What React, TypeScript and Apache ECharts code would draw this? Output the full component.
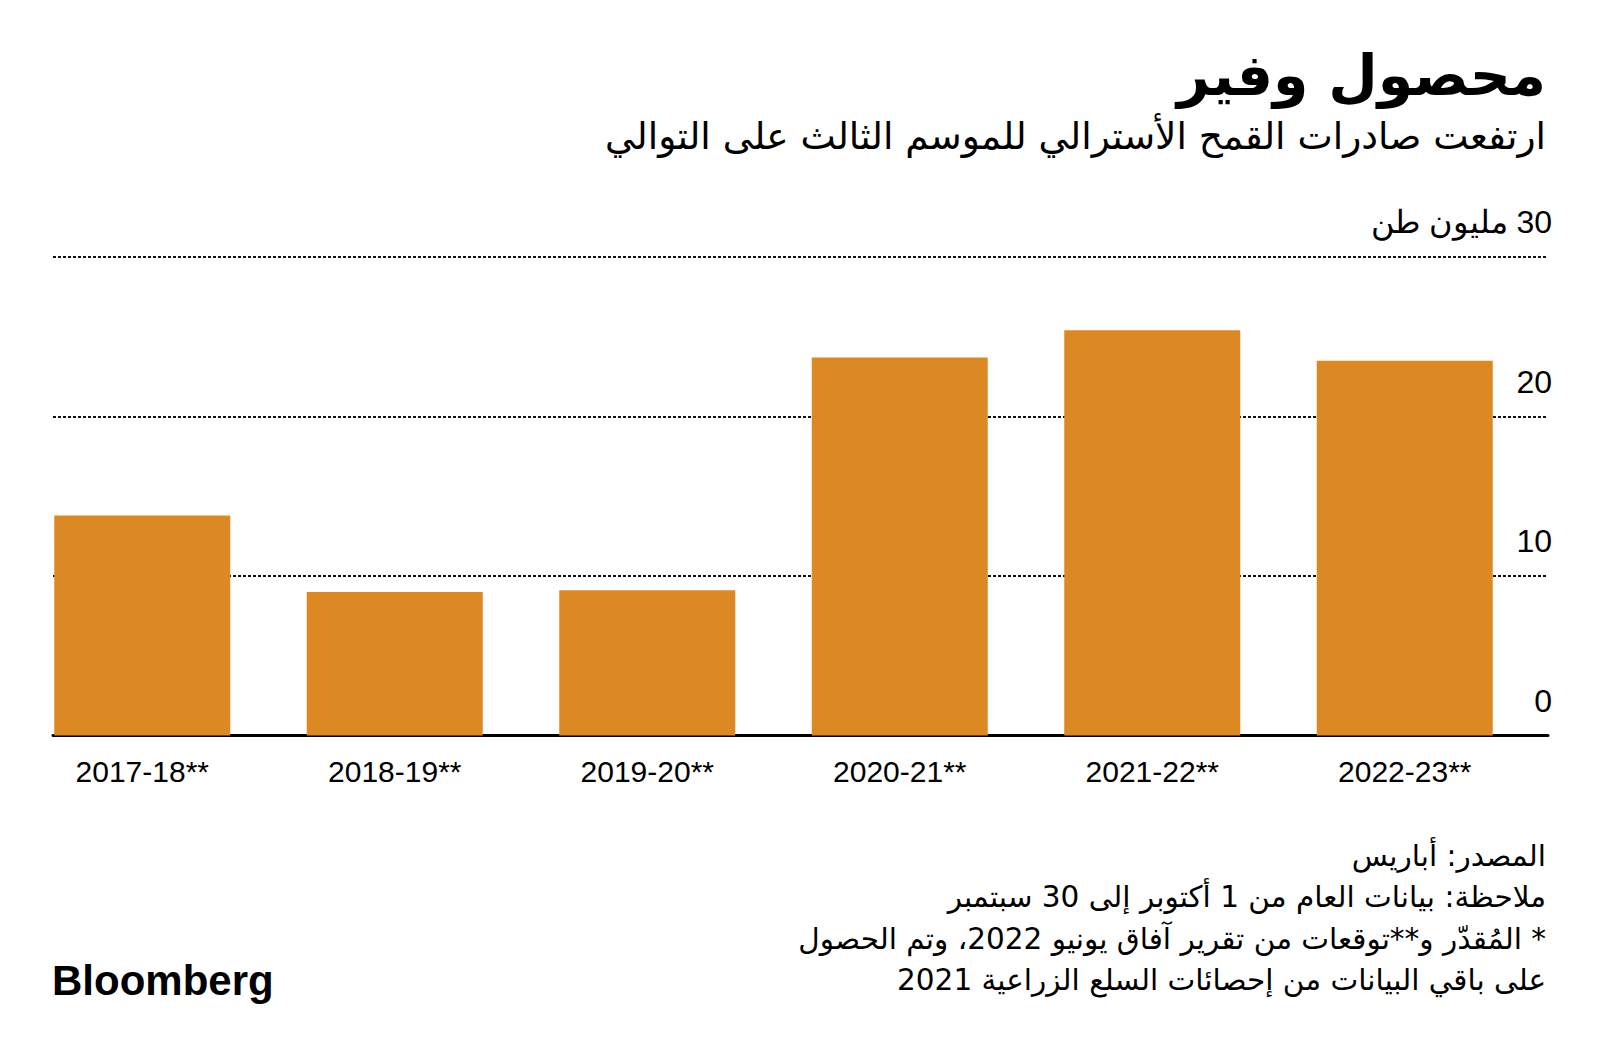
import React, { useEffect, useRef } from "react";
import * as echarts from "echarts";

const categories = ["2017-18**", "2018-19**", "2019-20**", "2020-21**", "2021-22**", "2022-23**"];
const exportValues = [13.8, 9.0, 9.1, 23.7, 25.4, 23.5];
const yTicks = [0, 10, 20, 30];
const unitLabel = "مليون طن";
const titleText = "محصول وفير";
const subtitleText = "ارتفعت صادرات القمح الأسترالي للموسم الثالث على التوالي";
const noteLines = [
  "المصدر: أباريس",
  "ملاحظة: بيانات العام من 1 أكتوبر إلى 30 سبتمبر",
  "* المُقدّر و**توقعات من تقرير آفاق يونيو 2022، وتم الحصول",
  "على باقي البيانات من إحصائات السلع الزراعية 2021",
];
const brand = "Bloomberg";

const RLE = "\u202B";
const PDF = "\u202C";
const rtl = (s: string) => RLE + s + PDF;

const BAR_COLOR = "#DC8923";
const LATIN = "'Liberation Sans', Arial, sans-serif";
const ARABIC = "'DejaVu Sans', 'Noto Sans', sans-serif";

export default function App() {
  const ref = useRef<HTMLDivElement>(null);
  useEffect(() => {
    if (!ref.current) return;
    const chart = echarts.init(ref.current, undefined, { renderer: "svg" });
    const yMax = yTicks[yTicks.length - 1];
    const option: any = {
      animation: false,
      backgroundColor: "#ffffff",
      grid: [
        { left: 16, right: 69, top: 257, bottom: 324.5 },
        { left: 53, right: 52, top: 257, bottom: 324.5 },
      ],
      xAxis: [
        {
          type: "category",
          gridIndex: 0,
          data: categories,
          axisLine: { show: false },
          axisTick: { show: false },
          axisLabel: {
            color: "#000",
            fontSize: 30,
            fontFamily: LATIN,
            margin: 21,
          },
        },
        {
          type: "value",
          gridIndex: 1,
          min: 0,
          max: 1,
          axisLine: { show: true, lineStyle: { color: "#000", width: 3 } },
          axisTick: { show: false },
          axisLabel: { show: false },
          splitLine: { show: false },
        },
      ],
      yAxis: [
        {
          type: "value",
          gridIndex: 0,
          min: 0,
          max: yMax,
          interval: 10,
          show: false,
        },
        {
          type: "value",
          gridIndex: 1,
          position: "right",
          min: 0,
          max: yMax,
          interval: 10,
          axisLine: { show: false },
          axisTick: { show: false },
          splitLine: {
            show: true,
            lineStyle: { color: "#111", width: 1.8, type: [3, 2] },
          },
          axisLabel: {
            color: "#000",
            fontSize: 32,
            fontFamily: LATIN,
            align: "right",
            margin: 4,
            verticalAlign: "bottom",
            lineHeight: 32,
            padding: [0, 0, 19, 0],
            formatter: (v: number) => (v === yMax ? rtl(`${v} ${unitLabel}`) : String(v)),
          },
        },
      ],
      series: [
        {
          type: "bar",
          xAxisIndex: 0,
          yAxisIndex: 0,
          data: exportValues,
          barWidth: 176,
          itemStyle: { color: BAR_COLOR },
          z: 3,
        },
      ],
      graphic: [
        {
          type: "text",
          right: 54,
          top: 46,
          style: {
            text: rtl(titleText),
            fontSize: 57,
            fontWeight: "bold",
            fontFamily: ARABIC,
            fill: "#000",
          },
        },
        {
          type: "text",
          right: 54,
          top: 117,
          style: {
            text: rtl(subtitleText),
            fontSize: 37.5,
            fontFamily: ARABIC,
            fill: "#000",
          },
        },
        ...noteLines.map((line, i) => ({
          type: "text",
          right: 54,
          top: 841 + i * 41.3,
          style: {
            text: rtl(line),
            fontSize: 29.5,
            fontFamily: ARABIC,
            fill: "#000",
          },
        })),
        {
          type: "text",
          left: 52,
          top: 959,
          style: {
            text: brand,
            fontSize: 42,
            fontWeight: "bold",
            fontFamily: LATIN,
            fill: "#000",
          },
        },
      ],
    };
    chart.setOption(option);
    return () => chart.dispose();
  }, []);
  return (
    <div
      ref={ref}
      style={{ position: "fixed", left: 0, top: 0, width: 1600, height: 1060, background: "#fff" }}
    />
  );
}
